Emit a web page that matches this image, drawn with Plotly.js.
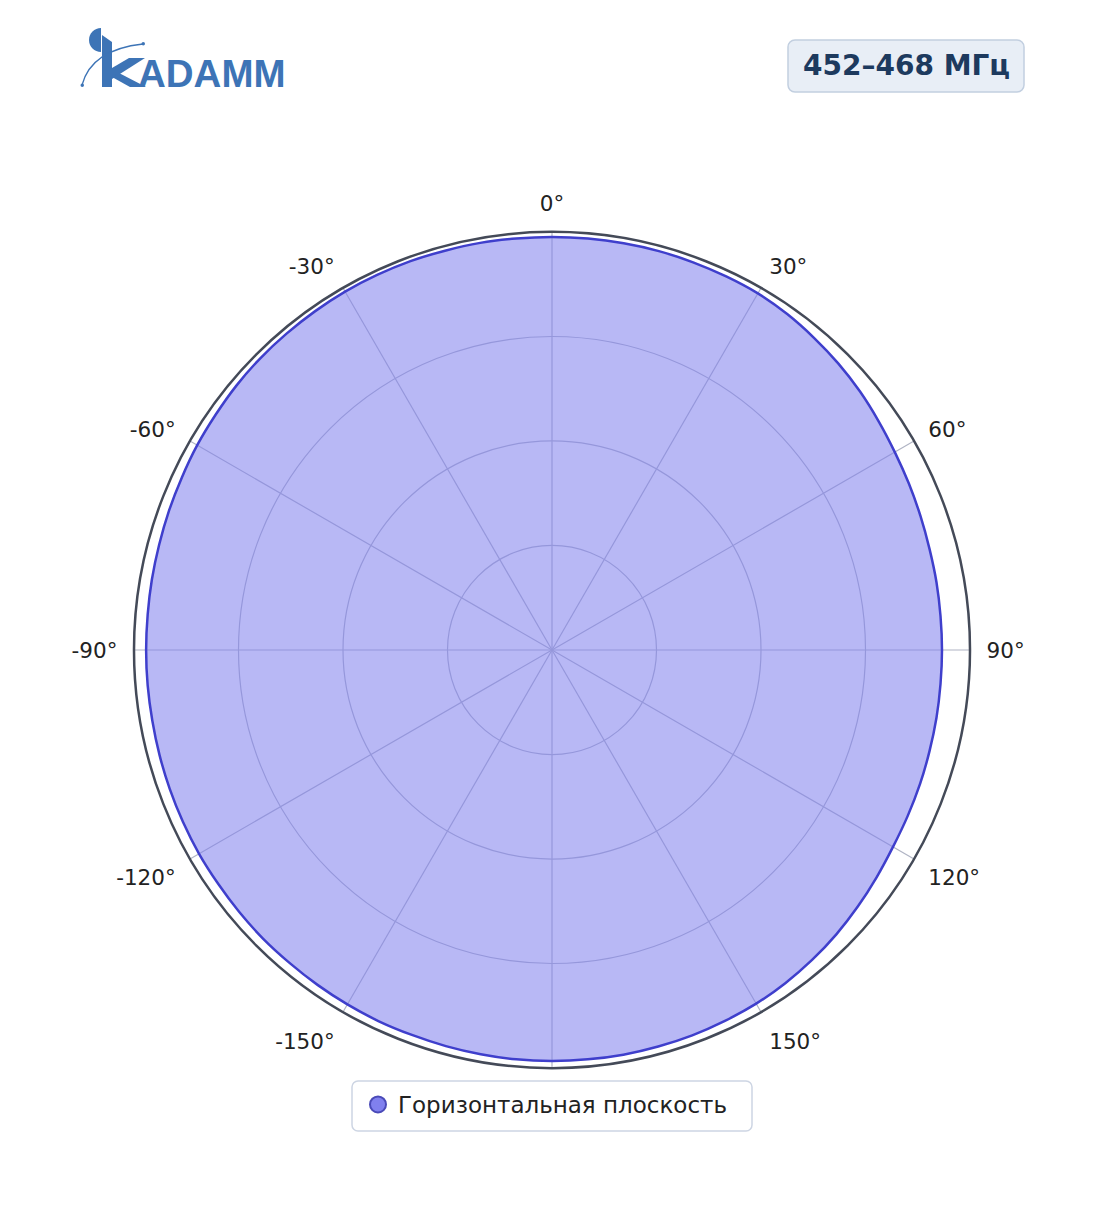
<!DOCTYPE html>
<html><head><meta charset="utf-8">
<script src="https://cdn.plot.ly/plotly-3.0.1.min.js"></script>
<style>html,body{margin:0;padding:0;background:#fff}#chart{width:1104px;height:1211px}</style>
</head><body><div id="chart"></div>
<script>
// ---- data ----
const thetaDeg = [0,5,10,15,20,25,30,35,40,45,50,55,60,65,70,75,80,85,90,95,100,105,110,115,120,125,130,135,140,145,150,155,160,165,170,175,180,185,190,195,200,205,210,215,220,225,230,235,240,245,250,255,260,265,270,275,280,285,290,295,300,305,310,315,320,325,330,335,340,345,350,355];
const gainH = [0.988,0.988,0.988,0.988,0.987,0.986,0.985,0.981,0.975,0.969,0.962,0.954,0.947,0.942,0.938,0.935,0.934,0.933,0.933,0.933,0.934,0.935,0.937,0.939,0.942,0.948,0.955,0.962,0.968,0.973,0.977,0.979,0.981,0.982,0.983,0.983,0.983,0.983,0.982,0.981,0.980,0.980,0.979,0.978,0.977,0.977,0.976,0.975,0.975,0.974,0.973,0.972,0.971,0.971,0.971,0.971,0.972,0.973,0.975,0.977,0.980,0.982,0.985,0.987,0.988,0.989,0.990,0.990,0.990,0.989,0.989,0.988];
const angleTickVals = [0,30,60,90,120,150,180,210,240,270,300,330];
const angleTickText = ['0°','30°','60°','90°','120°','150°','','-150°','-120°','-90°','-60°','-30°'];
const radialTickVals = [0.25,0.5,0.75];
const seriesName = 'Горизонтальная плоскость';
const bandLabel = '452–468 МГц';
const brandName = 'ADAMM';

// ---- helpers (pixel -> paper) ----
const W = 1104, H = 1211;
const px = x => x / W;
const py = y => 1 - y / H;
function pathFrom(cmds) {
  return cmds.map(c => {
    if (c[0] === 'Z') return 'Z';
    const pts = [];
    for (let i = 1; i < c.length; i += 2) pts.push(px(c[i]).toFixed(5) + ',' + py(c[i+1]).toFixed(5));
    return c[0] + ' ' + pts.join(' ');
  }).join(' ');
}
function roundRect(x0, y0, x1, y1, r) {
  const k = 0.552 * r;
  return pathFrom([
    ['M', x0 + r, y0], ['L', x1 - r, y0], ['C', x1 - r + k, y0, x1, y0 + r - k, x1, y0 + r],
    ['L', x1, y1 - r], ['C', x1, y1 - r + k, x1 - r + k, y1, x1 - r, y1],
    ['L', x0 + r, y1], ['C', x0 + r - k, y1, x0, y1 - r + k, x0, y1 - r],
    ['L', x0, y0 + r], ['C', x0, y0 + r - k, x0 + r - k, y0, x0 + r, y0], ['Z']
  ]);
}

const logoBlue = '#3d74b6';
const theta = thetaDeg.concat([thetaDeg[0] + 360]);
const r = gainH.concat([gainH[0]]);

const traces = [
  {
    type: 'scatterpolar', mode: 'lines', r: r, theta: theta,
    fill: 'toself', fillcolor: 'rgba(128,128,238,0.56)',
    line: {color: '#3f3fcc', width: 2.5, shape: 'spline', smoothing: 0.6}, showlegend: false, hoverinfo: 'skip'
  },
  {
    type: 'scatterpolar', mode: 'markers', r: [null], theta: [null], name: seriesName,
    marker: {size: 16, color: '#8080ee', line: {color: '#4a4ab8', width: 2}}
  }
];

const shapes = [
  // title box
  {type: 'path', xref: 'paper', yref: 'paper', path: roundRect(788, 40, 1024, 92, 7),
   fillcolor: '#e8eef6', line: {color: '#c2cfe0', width: 1.5}},
  // legend box
  {type: 'path', xref: 'paper', yref: 'paper', layer: 'above', path: roundRect(352, 1081, 752, 1131, 6),
   fillcolor: '#ffffff', line: {color: '#cdd5e3', width: 1.5}},
  // logo half disc
  {type: 'path', xref: 'paper', yref: 'paper', fillcolor: logoBlue, line: {width: 0},
   path: pathFrom([['M', 101, 28], ['C', 94.4, 28, 89, 33.4, 89, 40], ['C', 89, 46.6, 94.4, 52, 101, 52], ['Z']])},
  // logo K stem
  {type: 'path', xref: 'paper', yref: 'paper', fillcolor: logoBlue, line: {width: 0},
   path: pathFrom([['M', 102, 35], ['L', 112, 42], ['L', 112, 87], ['L', 102, 87], ['Z']])},
  // logo K upper arm
  {type: 'path', xref: 'paper', yref: 'paper', fillcolor: logoBlue, line: {width: 0},
   path: pathFrom([['M', 112, 68], ['L', 129, 58], ['L', 145, 58], ['L', 112, 79], ['Z']])},
  // logo K lower leg
  {type: 'path', xref: 'paper', yref: 'paper', fillcolor: logoBlue, line: {width: 0},
   path: pathFrom([['M', 119, 73], ['L', 146, 87], ['L', 130, 87], ['L', 112, 77], ['Z']])},
  // logo arc
  {type: 'path', xref: 'paper', yref: 'paper', line: {color: logoBlue, width: 1.3},
   path: pathFrom([['M', 82, 85], ['Q', 91.5, 49.5, 143, 44]])},
  {type: 'circle', xref: 'paper', yref: 'paper', fillcolor: logoBlue, line: {width: 0},
   x0: px(80.5), x1: px(84), y0: py(87), y1: py(83.5)},
  {type: 'circle', xref: 'paper', yref: 'paper', fillcolor: logoBlue, line: {width: 0},
   x0: px(141.5), x1: px(145), y0: py(45.5), y1: py(42)}
];

const annotations = [
  {xref: 'paper', yref: 'paper', x: px(906), y: py(66), xanchor: 'center', yanchor: 'middle',
   showarrow: false, text: '<b>' + bandLabel + '</b>',
   font: {family: 'DejaVu Sans', size: 28, color: '#1d3a5e'}},
  {xref: 'paper', yref: 'paper', x: px(136), y: py(73), xanchor: 'left', yanchor: 'middle',
   showarrow: false, text: '<b>' + brandName + '</b>',
   font: {family: 'Liberation Sans', size: 38.5, color: logoBlue}}
];

const layout = {
  width: W, height: H,
  margin: {l: 0, r: 0, t: 0, b: 0},
  paper_bgcolor: '#ffffff',
  font: {family: 'DejaVu Sans', size: 21.5, color: '#222222'},
  showlegend: true,
  legend: {
    x: px(358), xanchor: 'left', y: py(1083), yanchor: 'top', orientation: 'h',
    bgcolor: 'rgba(0,0,0,0)', borderwidth: 0,
    font: {family: 'DejaVu Sans', size: 23, color: '#222222'}
  },
  polar: {
    domain: {x: [px(134), px(970)], y: [py(1068), py(232)]},
    bgcolor: 'rgba(0,0,0,0)',
    radialaxis: {
      range: [0, 1], tickmode: 'array', tickvals: radialTickVals,
      showticklabels: false, ticks: '', showline: false,
      gridcolor: '#b0b4c4', gridwidth: 1.2
    },
    angularaxis: {
      direction: 'clockwise', rotation: 90, tickmode: 'array',
      tickvals: angleTickVals, ticktext: angleTickText,
      ticks: 'outside', ticklen: 11, tickcolor: 'rgba(0,0,0,0)',
      showline: true, linecolor: '#444a58', linewidth: 2.5,
      gridcolor: '#b0b4c4', gridwidth: 1.2,
      tickfont: {family: 'DejaVu Sans', size: 21.5, color: '#222222'}
    }
  },
  shapes: shapes,
  annotations: annotations
};

Plotly.newPlot('chart', traces, layout, {displayModeBar: false, staticPlot: true});
</script>
</body></html>
